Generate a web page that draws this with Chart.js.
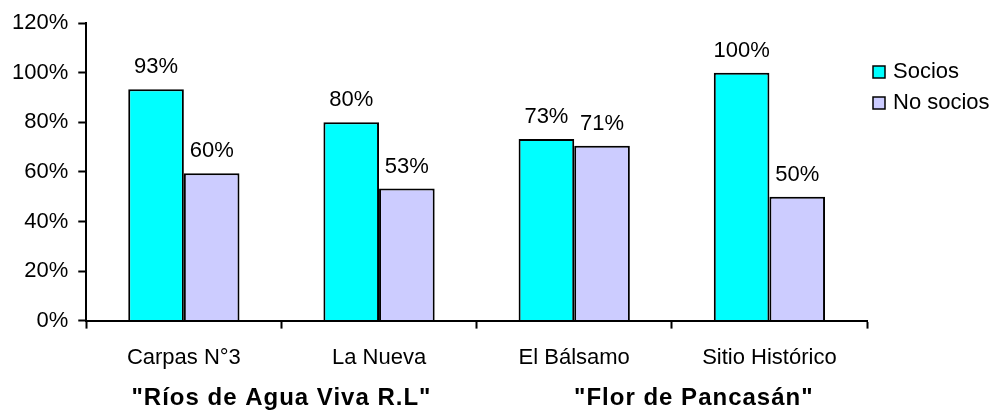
<!DOCTYPE html>
<html>
<head>
<meta charset="utf-8">
<script src="https://cdn.jsdelivr.net/npm/chart.js@4"></script>
<style>
  html, body { margin: 0; padding: 0; background: #fff; }
  #wrap { width: 1000px; height: 413px; }
</style>
</head>
<body>
<div id="wrap"><canvas id="socios-chart"></canvas></div>
<script>
const categories = ["Carpas N°3", "La Nueva", "El Bálsamo", "Sitio Histórico"];
const groups = ['"Ríos de Agua Viva R.L"', '"Flor de Pancasán"'];
const socios = [93.3, 80, 73.3, 100];
const noSocios = [59.5, 53.3, 70.6, 50];
const yTicks = [0, 20, 40, 60, 80, 100, 120];

const FONT = "Arial, 'Liberation Sans', sans-serif";

// labels over bars, legend at right and the cooperative names under the axis
const extrasPlugin = {
  id: 'extras',
  afterDatasetsDraw(chart) {
    const ctx = chart.ctx;
    ctx.save();
    ctx.fillStyle = '#000';
    ctx.font = '22px ' + FONT;
    ctx.textAlign = 'center';
    ctx.textBaseline = 'middle';
    chart.data.datasets.forEach((ds, i) => {
      chart.getDatasetMeta(i).data.forEach((bar, j) => {
        ctx.fillText(Math.round(ds.data[j]) + '%', bar.x, bar.y - 22);
      });
    });

    // legend
    const lx = chart.chartArea.right + 6;
    chart.data.datasets.forEach((ds, i) => {
      const ly = 66 + i * 31;
      ctx.fillStyle = ds.backgroundColor;
      ctx.fillRect(lx, ly, 12, 12);
      ctx.strokeStyle = '#000';
      ctx.lineWidth = 1.5;
      ctx.strokeRect(lx, ly, 12, 12);
      ctx.fillStyle = '#000';
      ctx.textAlign = 'left';
      ctx.fillText(ds.label, lx + 20, ly + 6);
    });

    // group names
    const x = chart.scales.x;
    ctx.font = 'bold 24px ' + FONT;
    ctx.letterSpacing = '1px';
    ctx.textAlign = 'center';
    const g1 = (x.getPixelForValue(0) + x.getPixelForValue(1)) / 2;
    const g2 = (x.getPixelForValue(2) + x.getPixelForValue(3)) / 2 + 22;
    ctx.fillText(groups[0], g1, 398);
    ctx.fillText(groups[1], g2, 398);
    ctx.restore();
  }
};

const chartConfig = {
  type: 'bar',
  data: {
    labels: categories,
    datasets: [
      {
        label: 'Socios',
        data: socios,
        backgroundColor: '#00FFFF',
        borderColor: '#000',
        borderWidth: 2,
      },
      {
        label: 'No socios',
        data: noSocios,
        backgroundColor: '#CCCCFF',
        borderColor: '#000',
        borderWidth: 2,
      },
    ],
  },
  options: {
    responsive: true,
    maintainAspectRatio: false,
    animation: false,
    layout: { padding: { left: 2, right: 133, top: 14, bottom: 26 } },
    datasets: { bar: { categoryPercentage: 0.57, barPercentage: 1.0 } },
    plugins: {
      legend: { display: false },
      tooltip: { enabled: false },
    },
    scales: {
      x: {
        grid: { offset: true, drawOnChartArea: false, tickLength: 8, tickColor: '#000', tickWidth: 2 },
        border: { color: '#000', width: 2 },
        ticks: { color: '#000', font: { size: 22, family: FONT }, padding: 16, maxRotation: 0 },
      },
      y: {
        min: 0,
        max: 120,
        afterBuildTicks: axis => { axis.ticks = yTicks.map(v => ({ value: v })); },
        grid: { drawOnChartArea: false, tickLength: 8, tickColor: '#000', tickWidth: 2 },
        border: { color: '#000', width: 2 },
        ticks: { color: '#000', font: { size: 22, family: FONT }, padding: 10, callback: v => v + '%' },
      },
    },
  },
  plugins: [extrasPlugin],
};

new Chart(document.getElementById('socios-chart'), chartConfig);
</script>
</body>
</html>
